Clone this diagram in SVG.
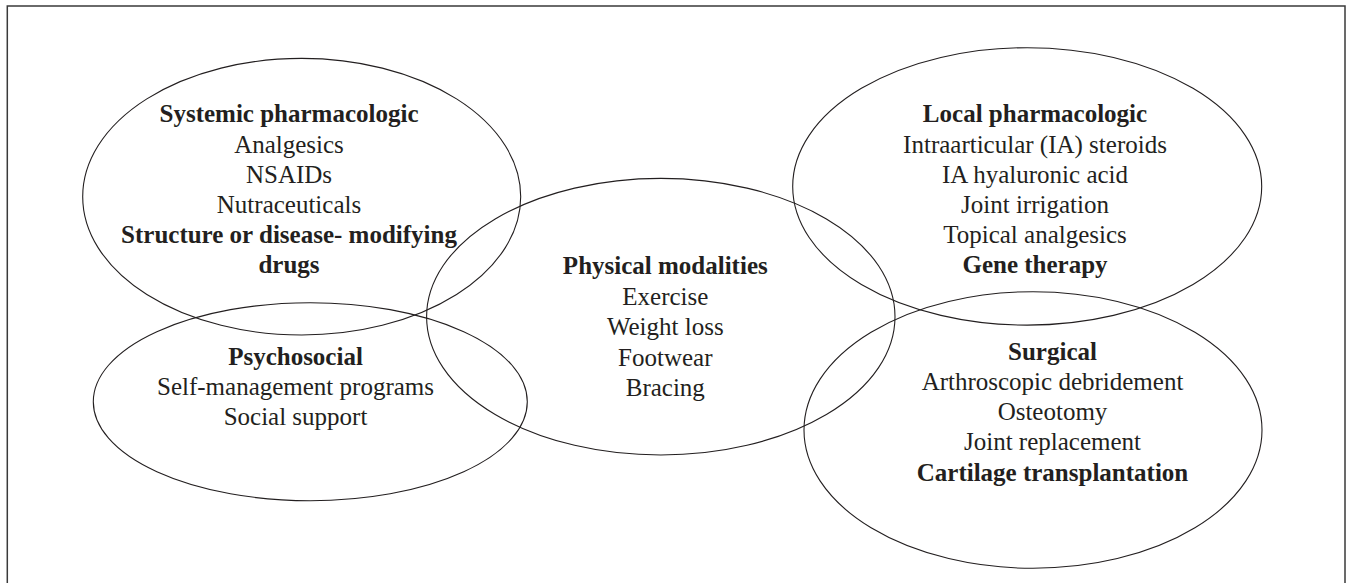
<svg xmlns="http://www.w3.org/2000/svg" width="1351" height="583" viewBox="0 0 1351 583">
<style>
.bg{fill:#fff}
.frame{fill:none;stroke:#3a3a3a;stroke-width:1.5}
.ell{fill:none;stroke:#231f20;stroke-width:1.1}
text{font-family:"Liberation Serif","Times New Roman",serif;font-size:25px;fill:#231f20;text-anchor:middle}
.b{font-weight:bold}
</style>
<rect class="bg" x="0" y="0" width="1351" height="583"/>
<rect class="frame" x="7.3" y="6" width="1337.7" height="590"/>
<g id="connectors"></g>
<g id="systemic">
<ellipse class="ell" cx="301.7" cy="196.7" rx="219" ry="138.3"/>
<text class="b" x="289" y="122">Systemic pharmacologic</text>
<text x="289" y="153">Analgesics</text>
<text x="289" y="183">NSAIDs</text>
<text x="289" y="213">Nutraceuticals</text>
<text class="b" x="289" y="243">Structure or disease- modifying</text>
<text class="b" x="289" y="273">drugs</text>
</g>
<g id="psychosocial">
<ellipse class="ell" cx="310.3" cy="401.7" rx="217" ry="99"/>
<text class="b" x="295.5" y="365">Psychosocial</text>
<text x="295.5" y="395">Self-management programs</text>
<text x="295.5" y="425">Social support</text>
</g>
<g id="physical">
<ellipse class="ell" cx="660.8" cy="316.7" rx="234.2" ry="138.3"/>
<text class="b" x="665.3" y="274">Physical modalities</text>
<text x="665.3" y="304.5">Exercise</text>
<text x="665.3" y="335">Weight loss</text>
<text x="665.3" y="365.5">Footwear</text>
<text x="665.3" y="396">Bracing</text>
</g>
<g id="local">
<ellipse class="ell" cx="1027.2" cy="186.4" rx="234.5" ry="138.7"/>
<text class="b" x="1035" y="122">Local pharmacologic</text>
<text x="1035" y="152.5">Intraarticular (IA) steroids</text>
<text x="1035" y="183">IA hyaluronic acid</text>
<text x="1035" y="213">Joint irrigation</text>
<text x="1035" y="243">Topical analgesics</text>
<text class="b" x="1035" y="273">Gene therapy</text>
</g>
<g id="surgical">
<ellipse class="ell" cx="1033" cy="430" rx="229" ry="138.3"/>
<text class="b" x="1052.5" y="359.5">Surgical</text>
<text x="1052.5" y="390">Arthroscopic debridement</text>
<text x="1052.5" y="420">Osteotomy</text>
<text x="1052.5" y="450">Joint replacement</text>
<text class="b" x="1052.5" y="480.5">Cartilage transplantation</text>
</g>
</svg>
